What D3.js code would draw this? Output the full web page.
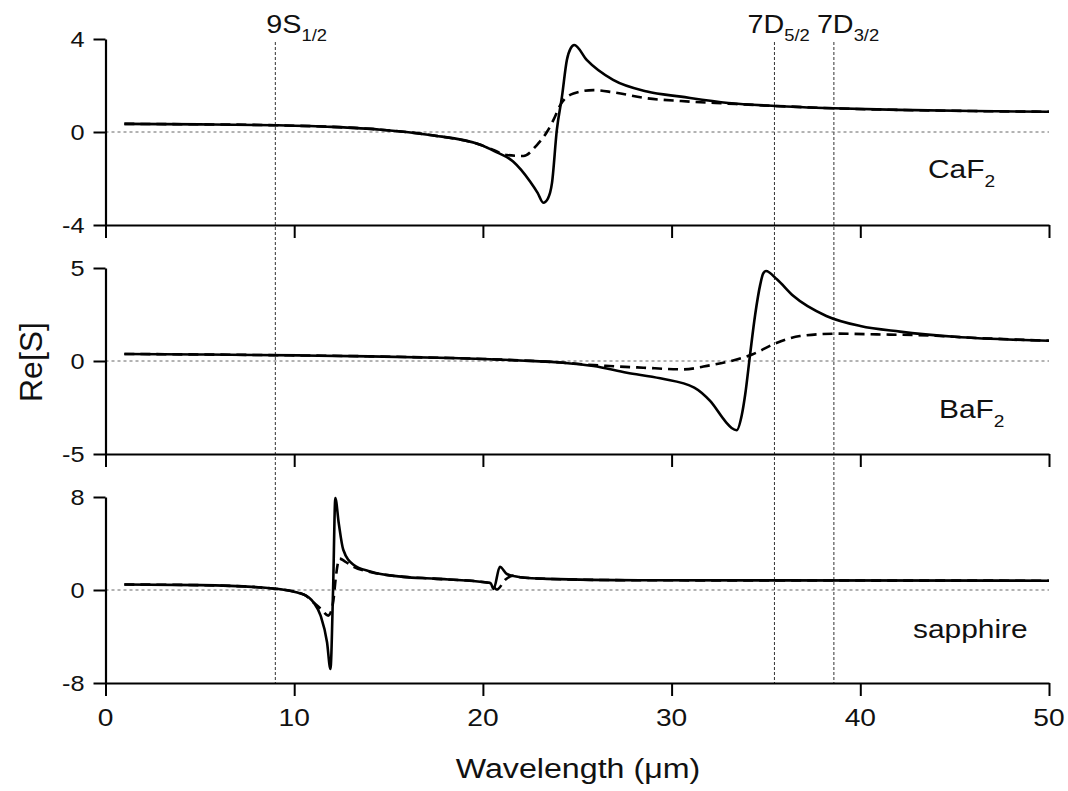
<!DOCTYPE html>
<html>
<head>
<meta charset="utf-8">
<script src="https://cdn.jsdelivr.net/npm/d3@7"></script>
<style>
  body { margin: 0; background: #fff; }
  text { font-family: "Liberation Sans", Arial, sans-serif; fill: #111; }
</style>
</head>
<body>
<svg id="chart" width="1068" height="791"></svg>
<script>
// ---- data ----
const materials = ['CaF2', 'BaF2', 'sapphire'];
const yDomains = [[-4, 4], [-5, 5], [-8, 8]];
const xTicks = [0, 10, 20, 30, 40, 50];
const levels = [
  {name: '9S', sub: '1/2', x: 9.0},
  {name: '7D', sub: '5/2', x: 35.45},
  {name: '7D', sub: '3/2', x: 38.6}
];

const caf2Solid = [[1,0.35],[5,0.33],[9,0.29],[12,0.22],[14.6,0.1],[17.2,-0.13],[19.9,-0.56],[20.6,-0.82],
  [21.6,-1.27],[22.5,-2.13],[22.9,-2.62],[23.2,-3.04],[23.45,-2.85],[23.66,-2.2],[23.92,0.1],[24.19,1.52],
  [24.45,3.1],[24.65,3.6],[24.84,3.74],[25.5,3.1],[26.9,2.24],[28.7,1.74],[30.5,1.52],[33,1.25],
  [35.5,1.12],[38.6,1.02],[42,0.95],[46,0.9],[50,0.87]];
const caf2Dashed = [[1,0.35],[5,0.33],[9,0.29],[12,0.22],[14.6,0.1],[17.2,-0.13],[19.9,-0.56],[20.56,-0.77],
  [21.27,-0.99],[22.15,-1.03],[22.86,-0.56],[23.4,0.01],[23.74,0.52],[24.1,1.16],[24.8,1.66],[25.86,1.8],
  [26.9,1.71],[28.7,1.45],[30.5,1.33],[33,1.22],[35.5,1.12],[38.6,1.02],[42,0.95],[46,0.9],[50,0.87]];

const baf2Solid = [[1,0.38],[5,0.35],[10.3,0.3],[14,0.25],[18.3,0.16],[20,0.11],[22,0.03],[24.1,-0.08],
  [25.86,-0.27],[27.63,-0.63],[29.4,-0.93],[31.2,-1.43],[32.04,-2.15],[32.9,-3.31],[33.18,-3.6],[33.45,-3.72],
  [33.72,-2.9],[33.9,-1.8],[34.16,0.36],[34.43,2.5],[34.7,4.12],[34.85,4.7],[35.0,4.84],[35.58,4.39],
  [36.46,3.49],[38.2,2.42],[40,1.88],[42.1,1.58],[45,1.3],[50,1.09]];
const baf2Dashed = [[1,0.38],[5,0.35],[10.3,0.3],[14,0.25],[18.3,0.16],[20,0.11],[22,0.03],[24.1,-0.08],
  [25.86,-0.22],[26.7,-0.27],[28.5,-0.36],[30.6,-0.45],[32.04,-0.23],[33.26,0.03],[34.3,0.36],[35.4,0.9],
  [36.8,1.34],[38.75,1.47],[40.87,1.43],[44,1.36],[45,1.3],[50,1.09]];

const sapphireSolid = [[1,0.47],[5,0.42],[8.74,0.15],[10.5,-0.38],[11.04,-1.1],[11.4,-2.2],[11.74,-4.5],
  [11.92,-6.8],[12.06,0],[12.18,7.9],[12.36,5.75],[12.6,3.46],[13.14,2.18],[14.03,1.6],[15.8,1.13],
  [17.4,0.98],[20.4,0.6],[20.57,0.1],[20.9,2.0],[21.27,1.38],[21.98,1.1],[23.4,0.96],[28.3,0.84],[50,0.8]];
const sapphireDashed = [[1,0.47],[5,0.42],[8.74,0.15],[10.5,-0.38],[11.04,-1.1],[11.4,-1.6],[11.8,-2.2],
  [12.0,-1.6],[12.1,-0.6],[12.2,1.0],[12.4,2.7],[12.7,2.45],[13.14,2.0],[14.03,1.55],[15.8,1.13],
  [17.4,0.98],[20.4,0.6],[20.74,0.04],[21.2,0.9],[21.6,1.24],[21.98,1.1],[23.4,0.96],[28.3,0.84],[50,0.8]];

const solidSeries = [caf2Solid, baf2Solid, sapphireSolid];
const dashedSeries = [caf2Dashed, baf2Dashed, sapphireDashed];

// ---- layout ----
const svg = d3.select('#chart');
const left = 105.5, right = 1049;
const panelTops = [39, 268, 497], panelH = 186;
const stretch = 1.15; // the source typeface is slightly wide

const x = d3.scaleLinear().domain([0, 50]).range([left, right]);

function label(g, px, py, parts, size, anchor, rotate) {
  const t = g.append('text')
      .attr('transform', 'translate(' + px + ',' + py + ')' + (rotate ? ' rotate(-90)' : ' scale(' + stretch + ',1)'))
      .attr('font-size', size)
      .attr('text-anchor', anchor || 'start');
  parts.forEach(function(p) {
    const s = t.append('tspan').text(p.t);
    if (p.sub) s.attr('font-size', size * 0.64).attr('dy', size * 0.33);
  });
  return t;
}

// vertical level markers, spanning all panels
levels.forEach(function(l) {
  svg.append('line')
      .attr('x1', x(l.x)).attr('x2', x(l.x))
      .attr('y1', 42).attr('y2', panelTops[2] + panelH)
      .attr('stroke', '#333').attr('stroke-width', 1)
      .attr('stroke-dasharray', '3,2');
});
const levelOffsets = [-9, -27, -17];
levels.forEach(function(l, i) {
  label(svg, x(l.x) + levelOffsets[i], 33, [{t: l.name}, {t: l.sub, sub: true}], 25);
});

materials.forEach(function(m, i) {
  const top = panelTops[i], bottom = top + panelH;
  const y = d3.scaleLinear().domain(yDomains[i]).range([bottom, top]);
  const g = svg.append('g');

  // zero line
  g.append('line')
      .attr('x1', left).attr('x2', right)
      .attr('y1', y(0)).attr('y2', y(0))
      .attr('stroke', '#666').attr('stroke-width', 1)
      .attr('stroke-dasharray', '3,3');

  const lineY = d3.line()
      .x(function(d) { return x(d[0]); })
      .y(function(d) { return y(d[1]); })
      .curve(d3.curveMonotoneX);

  g.append('path')
      .attr('d', lineY(dashedSeries[i]))
      .attr('fill', 'none').attr('stroke', '#000')
      .attr('stroke-width', 2.6).attr('stroke-dasharray', '10,6');
  g.append('path')
      .attr('d', lineY(solidSeries[i]))
      .attr('fill', 'none').attr('stroke', '#000')
      .attr('stroke-width', 2.6);

  // axes
  const yAxis = d3.axisLeft(y).tickValues([yDomains[i][0], 0, yDomains[i][1]])
      .tickSize(12).tickSizeOuter(0);
  const ya = g.append('g').attr('transform', 'translate(' + left + ',0)').call(yAxis);
  const xAxis = d3.axisBottom(x).tickValues(xTicks).tickSize(13).tickSizeOuter(0);
  const xa = g.append('g').attr('transform', 'translate(0,' + bottom + ')').call(xAxis);

  [ya, xa].forEach(function(a) {
    a.select('.domain').attr('stroke', '#000').attr('stroke-width', 2.2);
    a.selectAll('.tick line').attr('stroke', '#000').attr('stroke-width', 2);
    a.selectAll('.tick text').remove();
  });

  ya.selectAll('.tick').each(function(d) {
    label(g, left - 21, y(d) + 8, [{t: String(d)}], 22, 'end');
  });
  if (i === 2) {
    xa.selectAll('.tick').each(function(d) {
      label(g, x(d), 726, [{t: String(d)}], 24.5, 'middle');
    });
  }
});

// material labels
label(svg, 928, 178, [{t: 'CaF'}, {t: '2', sub: true}], 26);
label(svg, 939, 418, [{t: 'BaF'}, {t: '2', sub: true}], 26);
label(svg, 913, 638, [{t: 'sapphire'}], 26);

// axis titles
label(svg, 578, 778, [{t: 'Wavelength (\u03bcm)'}], 28, 'middle');
label(svg, 42, 362, [{t: 'Re[S]'}], 32, 'middle', true);
</script>
</body>
</html>
